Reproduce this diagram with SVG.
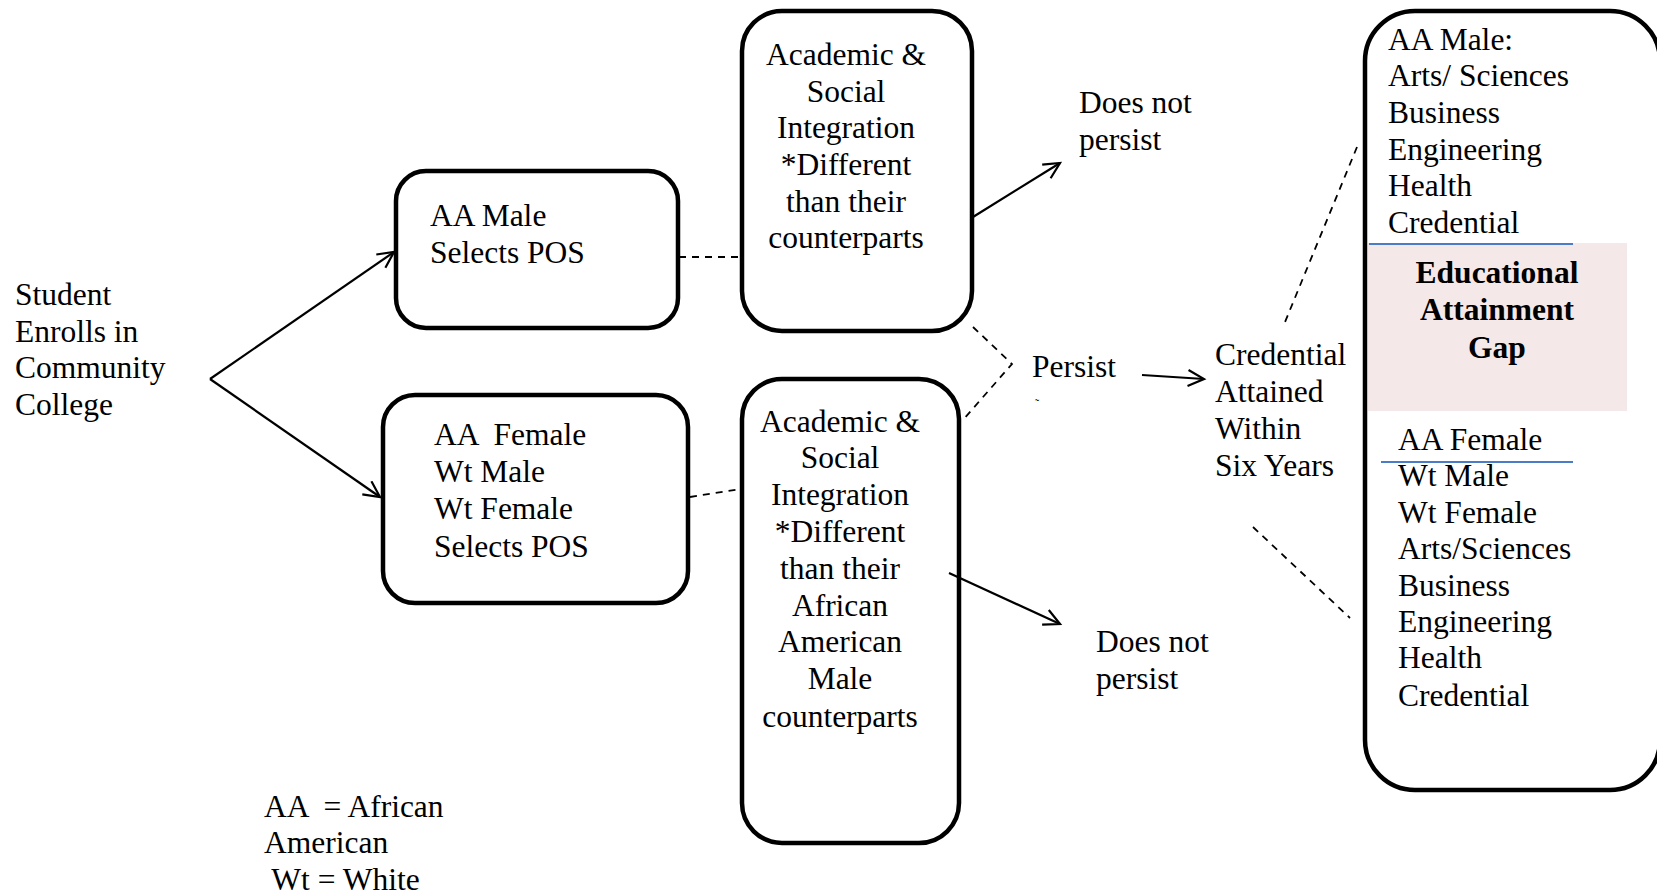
<svg xmlns="http://www.w3.org/2000/svg" width="1657" height="896" viewBox="0 0 1657 896">
<style>
text{font-family:"Liberation Serif","Times New Roman",serif;font-size:31.5px;fill:#000;white-space:pre}
.c{text-anchor:middle}
.b{font-weight:bold}
.box{fill:none;stroke:#000;stroke-width:4.5}
.ln{fill:none;stroke:#000;stroke-width:2.2}
.dash{fill:none;stroke:#000;stroke-width:1.8;stroke-dasharray:7,6}
.blue{stroke:#4a7cc7;stroke-width:2.2}
</style>
<defs>
<marker id="arr" markerUnits="userSpaceOnUse" markerWidth="24" markerHeight="24" refX="17" refY="9" orient="auto">
<path d="M1,1 L17,9 L1,17" fill="none" stroke="#000" stroke-width="2.2"/>
</marker>
</defs>
<rect width="1657" height="896" fill="#fff"/>

<g id="start">
<text x="15" y="305">Student</text>
<text x="15" y="342">Enrolls in</text>
<text x="15" y="378">Community</text>
<text x="15" y="415">College</text>
</g>

<g id="aa-male">
<rect class="box" x="396" y="171" width="282" height="157" rx="30"/>
<text x="430" y="226">AA Male</text>
<text x="430" y="263">Selects POS</text>
</g>

<g id="others">
<rect class="box" x="383" y="395" width="305" height="208" rx="32"/>
<text x="434" y="445">AA  Female</text>
<text x="434" y="482">Wt Male</text>
<text x="434" y="519">Wt Female</text>
<text x="434" y="557">Selects POS</text>
</g>

<g id="integration-top">
<rect class="box" x="742" y="11" width="230" height="320" rx="40"/>
<text class="c" x="846" y="65">Academic &amp;</text>
<text class="c" x="846" y="102">Social</text>
<text class="c" x="846" y="138">Integration</text>
<text class="c" x="846" y="175">*Different</text>
<text class="c" x="846" y="212">than their</text>
<text class="c" x="846" y="248">counterparts</text>
</g>

<g id="integration-bottom">
<rect class="box" x="742" y="379" width="217" height="464" rx="40"/>
<text class="c" x="840" y="432">Academic &amp;</text>
<text class="c" x="840" y="468">Social</text>
<text class="c" x="840" y="505">Integration</text>
<text class="c" x="840" y="542">*Different</text>
<text class="c" x="840" y="579">than their</text>
<text class="c" x="840" y="616">African</text>
<text class="c" x="840" y="652">American</text>
<text class="c" x="840" y="689">Male</text>
<text class="c" x="840" y="727">counterparts</text>
</g>

<g id="not-persist-top">
<text x="1079" y="113">Does not</text>
<text x="1079" y="150">persist</text>
</g>

<g id="not-persist-bottom">
<text x="1096" y="652">Does not</text>
<text x="1096" y="689">persist</text>
</g>

<g id="persist">
<text x="1032" y="377">Persist</text>
<text x="1035" y="408" style="font-size:12px">˜</text>
</g>

<g id="credential">
<text x="1215" y="365">Credential</text>
<text x="1215" y="402">Attained</text>
<text x="1215" y="439">Within</text>
<text x="1215" y="476">Six Years</text>
</g>

<g id="outcomes">
<rect x="1368" y="243" width="259" height="168" fill="#f5e8e8"/>
<rect class="box" x="1365" y="11" width="295" height="779" rx="50"/>
<line class="blue" x1="1369" y1="244" x2="1573" y2="244"/>
<line class="blue" x1="1381" y1="462" x2="1573" y2="462"/>
<text x="1388" y="50">AA Male:</text>
<text x="1388" y="86">Arts/ Sciences</text>
<text x="1388" y="123">Business</text>
<text x="1388" y="160">Engineering</text>
<text x="1388" y="196">Health</text>
<text x="1388" y="233">Credential</text>
<text class="c b" x="1497" y="283">Educational</text>
<text class="c b" x="1497" y="320">Attainment</text>
<text class="c b" x="1497" y="358">Gap</text>
<text x="1398" y="450">AA Female</text>
<text x="1398" y="486">Wt Male</text>
<text x="1398" y="523">Wt Female</text>
<text x="1398" y="559">Arts/Sciences</text>
<text x="1398" y="596">Business</text>
<text x="1398" y="632">Engineering</text>
<text x="1398" y="668">Health</text>
<text x="1398" y="706">Credential</text>
</g>

<g id="legend">
<text x="264" y="817">AA  = African</text>
<text x="264" y="853">American</text>
<text x="264" y="890"> Wt = White</text>
</g>

<g id="connectors">
<line class="ln" x1="210" y1="379" x2="394" y2="252" marker-end="url(#arr)"/>
<line class="ln" x1="210" y1="379" x2="380" y2="497" marker-end="url(#arr)"/>
<line class="dash" x1="679" y1="257" x2="741" y2="257"/>
<line class="dash" x1="690" y1="497" x2="741" y2="489"/>
<line class="ln" x1="973" y1="217" x2="1060" y2="163" marker-end="url(#arr)"/>
<line class="ln" x1="949" y1="573" x2="1060" y2="624" marker-end="url(#arr)"/>
<polyline class="dash" points="973,327 1012,364 962,421"/>
<line class="ln" x1="1142" y1="375" x2="1204" y2="379" marker-end="url(#arr)"/>
<line class="dash" x1="1357" y1="147" x2="1285" y2="322"/>
<line class="dash" x1="1253" y1="527" x2="1350" y2="618"/>
</g>
</svg>
